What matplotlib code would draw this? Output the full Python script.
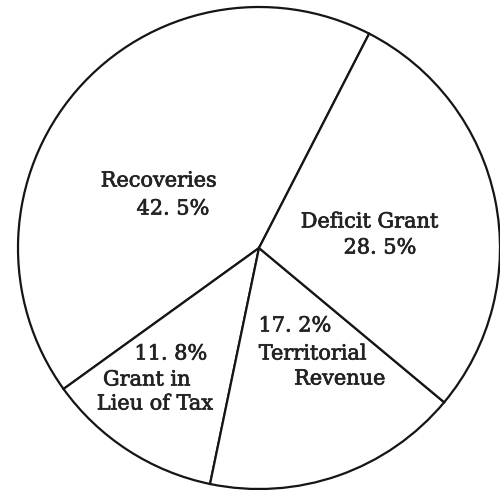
import matplotlib
matplotlib.use("Agg")
import matplotlib.pyplot as plt
import matplotlib.patheffects as pe

# slice order: counter-clockwise starting from the upper-right radius
labels = ["Recoveries", "Grant in Lieu of Tax", "Territorial Revenue", "Deficit Grant"]
shares = [42.5, 11.8, 17.2, 28.5]

# label lines as typed on the chart, with their centre positions (px, from top-left)
label_lines = [
    ("Recoveries", 159, 181),
    ("42. 5%", 173, 209),
    ("Deficit Grant", 370, 222),
    ("28. 5%", 380, 248),
    ("11. 8%", 171, 354),
    ("Grant in", 147, 380),
    ("Lieu of Tax", 155, 404),
    ("17. 2%", 295, 326),
    ("Territorial", 313, 354),
    ("Revenue", 340, 379),
]

W, H = 500, 492
fig = plt.figure(figsize=(W / 100, H / 100), dpi=100)
ax = fig.add_axes([0, 0, 1, 1])

ax.pie(
    shares,
    center=(259, H - 248),
    radius=241,
    startangle=62.8,
    counterclock=True,
    colors=["white"] * len(shares),
    wedgeprops=dict(edgecolor="#151515", linewidth=1.6),
    frame=True,
)
ax.set_xlim(0, W)
ax.set_ylim(0, H)
ax.set_aspect("equal")
ax.set_axis_off()

thick = [pe.withStroke(linewidth=0.5, foreground="#222222")]
for text, x, y in label_lines:
    ax.text(x, H - y, text, ha="center", va="center",
            fontsize=15, family="DejaVu Serif", color="#222222",
            path_effects=thick)

fig.savefig("out.png", dpi=100)
